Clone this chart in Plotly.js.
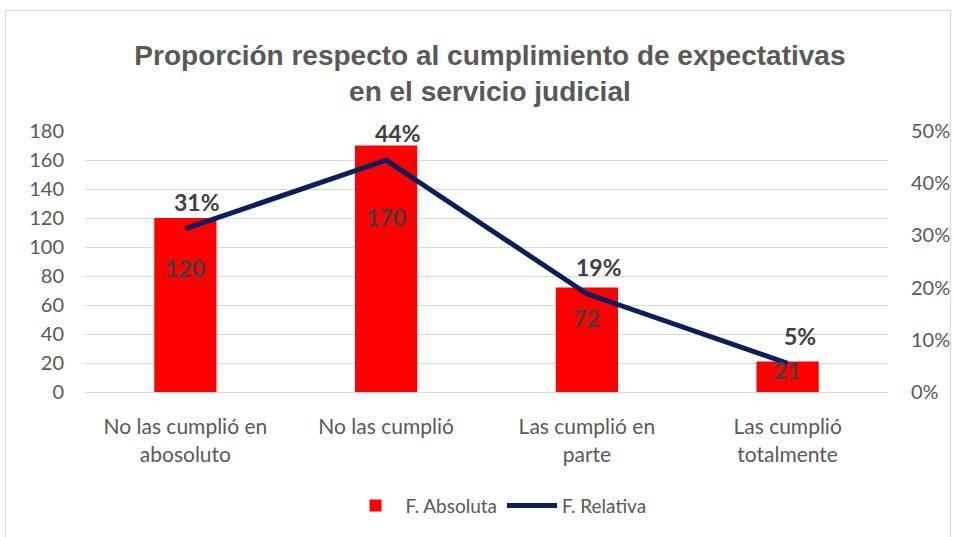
<!DOCTYPE html>
<html>
<head>
<meta charset="utf-8">
<script src="https://cdn.plot.ly/plotly-3.0.1.min.js"></script>
<style>
html,body{margin:0;padding:0;background:#fff;}
#frame{position:absolute;left:5px;top:10px;width:946px;height:540px;border:1px solid #d9d9d9;box-sizing:border-box;}
#chart{position:absolute;left:0;top:0;width:955px;height:537px;}
</style>
</head>
<body>
<div id="frame"></div>
<div id="chart"></div>
<script>
const categories = ["No las cumplió en<br>abosoluto", "No las cumplió", "Las cumplió en<br>parte", "Las cumplió<br>totalmente"];
const absoluta = [120, 170, 72, 21];
const relativa = [0.313, 0.444, 0.188, 0.055];
const relativaLabels = ["31%", "44%", "19%", "5%"];

const gray = "#595959";
const labelColor = "#404040";

const barTrace = {
  type: "bar",
  name: "F. Absoluta",
  x: categories,
  y: absoluta,
  marker: {color: "#ff0000"},
  hoverinfo: "none"
};
const lineTrace = {
  type: "scatter",
  mode: "lines",
  name: "F. Relativa",
  x: categories,
  y: relativa,
  yaxis: "y2",
  line: {color: "#0b1f5c", width: 5},
  hoverinfo: "none"
};

const annotations = [];
absoluta.forEach((v, i) => {
  annotations.push({
    x: categories[i], y: v * 0.71, xref: "x", yref: "y",
    text: "<b>" + v + "</b>", showarrow: false,
    font: {family: "Lato, sans-serif", size: 23, color: labelColor, weight: "bold"}
  });
});
relativa.forEach((v, i) => {
  annotations.push({
    x: categories[i], y: v, xref: "x", yref: "y2",
    text: "<b>" + relativaLabels[i] + "</b>", showarrow: false,
    xshift: 12, yshift: 27,
    font: {family: "Lato, sans-serif", size: 23, color: labelColor, weight: "bold"}
  });
});

const layout = {
  width: 955, height: 537,
  paper_bgcolor: "rgba(0,0,0,0)",
  plot_bgcolor: "rgba(0,0,0,0)",
  margin: {l: 85, r: 67, t: 131, b: 143},
  title: {
    text: "<b>Proporción respecto al cumplimiento de expectativas<br>en el servicio judicial</b>",
    font: {family: "Liberation Sans, Arial, sans-serif", size: 28, color: gray},
    x: 0.513, xanchor: "center",
    y: 1 - 65/537, yref: "container", yanchor: "middle"
  },
  bargap: 0.69,
  showlegend: true,
  legend: {
    orientation: "h", x: 0.515, xanchor: "center", y: -0.435, yanchor: "middle",
    font: {family: "Lato, sans-serif", size: 19, color: gray},
    itemwidth: 50, traceorder: "normal"
  },
  xaxis: {
    type: "category",
    tickfont: {family: "Lato, sans-serif", size: 21, color: gray},
    showline: true, linecolor: "#d9d9d9", linewidth: 1,
    ticks: "", showgrid: false,
    ticklabelstandoff: 16
  },
  yaxis: {
    range: [0, 180], dtick: 20,
    tickfont: {family: "Lato, sans-serif", size: 20, color: gray},
    gridcolor: "#d9d9d9", gridwidth: 1,
    zeroline: false, showline: false, ticks: "",
    ticklabelstandoff: 20
  },
  yaxis2: {
    overlaying: "y", side: "right",
    range: [0, 0.5], dtick: 0.1, tickformat: ".0%",
    tickfont: {family: "Lato, sans-serif", size: 20, color: gray},
    showgrid: false, zeroline: false, showline: false, ticks: "",
    ticklabelstandoff: 22
  },
  annotations: annotations
};

Plotly.newPlot("chart", [barTrace, lineTrace], layout, {displayModeBar: false, staticPlot: true});
</script>
</body>
</html>
